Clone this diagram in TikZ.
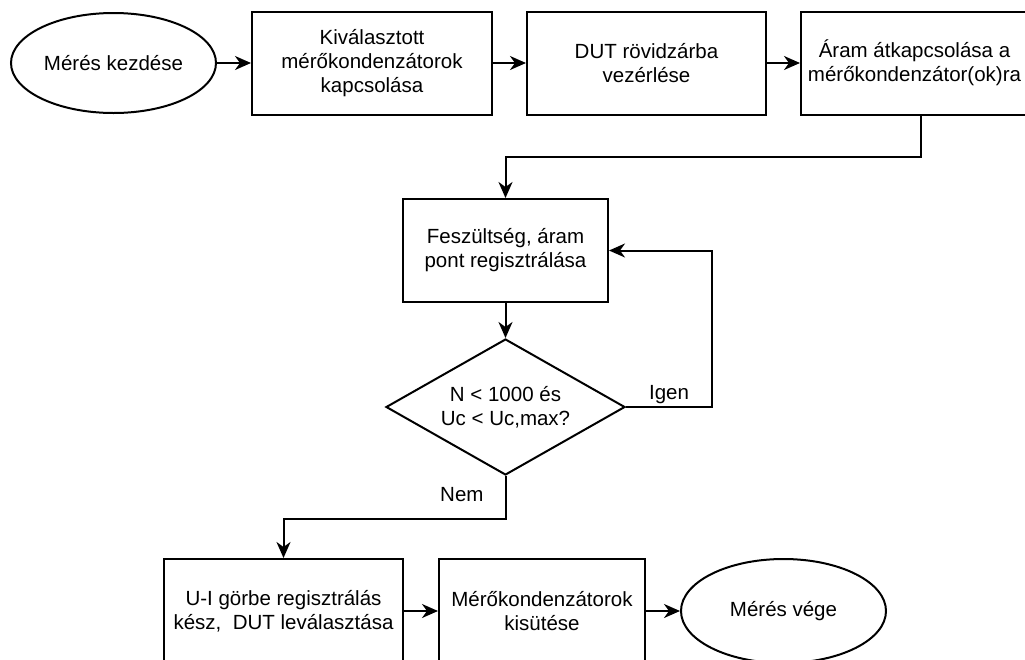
\documentclass[tikz,border=0pt]{standalone}
\usepackage{fontspec}
\setmainfont{Liberation Sans}
\usetikzlibrary{positioning,arrows.meta,shapes.geometric}

\begin{document}
\begin{tikzpicture}[
    x=1pt, y=-1pt,
    >={Stealth[length=16pt, width=14pt, inset=5pt]},
    font=\fontsize{20.5pt}{24pt}\selectfont,
    line width=2pt,
    box/.style      = {rectangle, draw, align=center, minimum height=103pt, inner sep=2pt},
    term/.style     = {ellipse, draw, align=center, minimum width=205pt, minimum height=100pt, inner sep=0pt},
    decision/.style = {diamond, draw, align=center, minimum width=239pt, minimum height=136pt, aspect=1.76, inner sep=0pt},
    flow/.style     = {->},
    lbl/.style      = {inner sep=2pt},
    node distance = 33pt
]
\useasboundingbox (0,0) rectangle (1025,659);

% TOP ROW
\node[term] (start) at (113.5,63) {Mérés kezdése};
\node[box, minimum width=240pt, right=34pt of start] (sel) {Kiválasztott\\mérőkondenzátorok\\kapcsolása};
\node[box, minimum width=239pt, right=of sel] (dut) {DUT rövidzárba\\vezérlése};
\node[box, minimum width=227pt, right=of dut] (cur) {Áram átkapcsolása a\\mérőkondenzátor(ok)ra};

% MEASUREMENT LOOP
\node[box, minimum width=205pt] (reg) at (505.5,250.5) {Feszültség, áram\\pont regisztrálása};
\node[decision, below=35pt of reg] (dec) {N < 1000 és\\Uc < Uc,max?};

% BOTTOM ROW
\node[box, minimum width=239pt, minimum height=104pt, anchor=north] (done) at (283.5,558) {U-I görbe regisztrálás\\kész,\ \ DUT leválasztása};
\node[box, minimum width=206pt, minimum height=104pt, right=34pt of done] (disc) {Mérőkondenzátorok\\kisütése};
\node[term, minimum height=104pt, right=34pt of disc] (stop) {Mérés vége};

% EDGES
\foreach \i/\j in {start/sel, sel/dut, dut/cur, done/disc, disc/stop}{ \draw[flow] (\i) -- (\j); }
\draw[flow] ([xshift=6.5pt]cur.south) -- ++(0,41.5) -| (reg.north);
\draw[flow] (reg) -- (dec);
\draw[flow] (dec.east) -- ++(86,0) node[lbl, above, pos=0.5] {Igen} |- (reg.east);
\draw[flow] (dec.south) -- ++(0,43) node[lbl, left=19pt, pos=0.44] {Nem} -| (done.north);

\end{tikzpicture}
\end{document}
